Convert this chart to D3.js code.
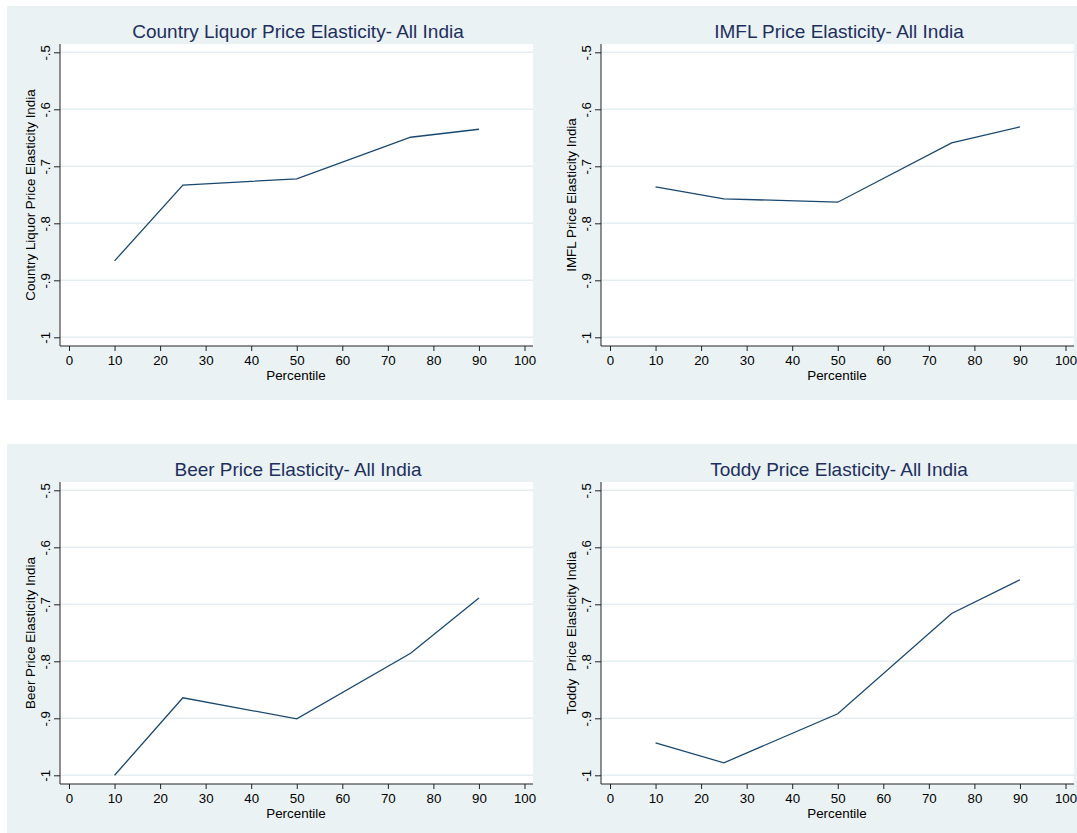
<!DOCTYPE html>
<html lang="en">
  <head>
    <meta charset="utf-8">
    <title>Price Elasticity - All India</title>
    <script src="https://d3js.org/d3.v7.min.js"></script>
    <style>
      body { margin: 0; background: #fff; }
      text { font-family: "Liberation Sans", Arial, sans-serif; }
    </style>
  </head>
  <body>
    <div id="chart"></div>
    <script>
      // percentiles on the x axis, same for every panel
      var percentiles = [10, 25, 50, 75, 90];

      // elasticity by percentile
      var countryLiquor = [-0.866, -0.733, -0.722, -0.649, -0.635];
      var imfl = [-0.736, -0.757, -0.763, -0.659, -0.631];
      var beer = [-1.000, -0.864, -0.901, -0.786, -0.689];
      var toddy = [-0.943, -0.978, -0.892, -0.716, -0.657];

      var titles = [
        "Country Liquor Price Elasticity- All India",
        "IMFL Price Elasticity- All India",
        "Beer Price Elasticity- All India",
        "Toddy Price Elasticity- All India"
      ];
      var yTitles = [
        "Country Liquor Price Elasticity India",
        "IMFL Price Elasticity India",
        "Beer Price Elasticity India",
        "Toddy  Price Elasticity India"
      ];
      var series = [countryLiquor, imfl, beer, toddy];

      var xTicks = [0, 10, 20, 30, 40, 50, 60, 70, 80, 90, 100];
      var yTicks = [-1, -0.9, -0.8, -0.7, -0.6, -0.5];
      var yTickLabels = ["-1", "-.9", "-.8", "-.7", "-.6", "-.5"];

      var svg = d3.select("#chart")
        .append("svg")
        .attr("width", 1077)
        .attr("height", 833)
        .style("display", "block");

      // panel origins: [dx, dy]
      var origins = [[0, 0], [541, 0], [0, 438], [541, 438]];
      var bgHeights = [394, 394, 389, 389];

      var axisColor = "#222";
      var navy = "#1a476f";

      var drawPanel = function(i) {
        var dx = origins[i][0], dy = origins[i][1];
        var g = svg.append("g").attr("transform", "translate(" + dx + "," + dy + ")");

        // graph region background
        g.append("rect")
          .attr("x", i % 2 == 0 ? 7 : 0)
          .attr("y", 6)
          .attr("width", i % 2 == 0 ? 534 : 536)
          .attr("height", bgHeights[i])
          .attr("fill", "#eaf2f3");

        // plot region
        g.append("rect")
          .attr("x", 60).attr("y", 44)
          .attr("width", 473).attr("height", 302)
          .attr("fill", "#fff");

        var xScale = d3.scaleLinear().domain([0, 100]).range([69, 524.5]);
        var yScale = d3.scaleLinear().domain([-1, -0.5]).range([337.3, 52.3]);

        // gridlines
        g.selectAll(".grid")
          .data(yTicks)
          .enter()
          .append("line")
            .attr("x1", 60).attr("x2", 533)
            .attr("y1", (d) => yScale(d)).attr("y2", (d) => yScale(d))
            .attr("stroke", "#e4eef0")
            .attr("stroke-width", 1.5);

        // x axis
        var xAxis = d3.axisBottom(xScale)
          .tickValues(xTicks)
          .tickSize(5)
          .tickSizeOuter(0)
          .tickPadding(5);
        var gx = g.append("g")
          .attr("transform", "translate(0,346)")
          .call(xAxis);
        gx.select(".domain").remove();
        gx.selectAll("line").attr("stroke", axisColor);
        gx.selectAll("text")
          .attr("fill", "#000")
          .style("font-size", "13.3px")
          .style("font-family", "Liberation Sans, Arial, sans-serif");
        g.append("line")
          .attr("x1", 60).attr("x2", 533)
          .attr("y1", 346).attr("y2", 346)
          .attr("stroke", axisColor);

        // y axis with rotated labels
        var yAxis = d3.axisLeft(yScale)
          .tickValues(yTicks)
          .tickFormat((d, j) => yTickLabels[j])
          .tickSize(6)
          .tickSizeOuter(0);
        var gy = g.append("g")
          .attr("transform", "translate(60,0)")
          .call(yAxis);
        gy.select(".domain").remove();
        gy.selectAll("line").attr("stroke", axisColor);
        gy.selectAll("text")
          .attr("transform", "rotate(-90)")
          .attr("x", 0)
          .attr("y", -10.5)
          .attr("dy", 0)
          .attr("text-anchor", "middle")
          .attr("fill", "#000")
          .style("font-size", "13.3px")
          .style("font-family", "Liberation Sans, Arial, sans-serif");
        g.append("line")
          .attr("x1", 60).attr("x2", 60)
          .attr("y1", 44).attr("y2", 346)
          .attr("stroke", axisColor);

        // series line
        var pts = percentiles.map((p, j) => [p, series[i][j]]);
        var line = d3.line()
          .x((d) => xScale(d[0]))
          .y((d) => yScale(d[1]));
        g.append("path")
          .datum(pts)
          .attr("d", line)
          .attr("fill", "none")
          .attr("stroke", navy)
          .attr("stroke-width", 1.3);

        // titles
        g.append("text")
          .attr("x", 298)
          .attr("y", 37.5)
          .attr("text-anchor", "middle")
          .attr("fill", "#1e2f5e")
          .style("font-size", "19px")
          .text(titles[i]);

        g.append("text")
          .attr("x", 296)
          .attr("y", 380)
          .attr("text-anchor", "middle")
          .attr("fill", "#000")
          .style("font-size", "13.4px")
          .text("Percentile");

        g.append("text")
          .attr("transform", "translate(35,195)rotate(-90)")
          .attr("text-anchor", "middle")
          .attr("fill", "#000")
          .style("font-size", "13.4px")
          .style("white-space", "pre")
          .text(yTitles[i]);
      }

      for (var i = 0; i < 4; i++) {
        drawPanel(i);
      }
    </script>
  </body>
</html>
